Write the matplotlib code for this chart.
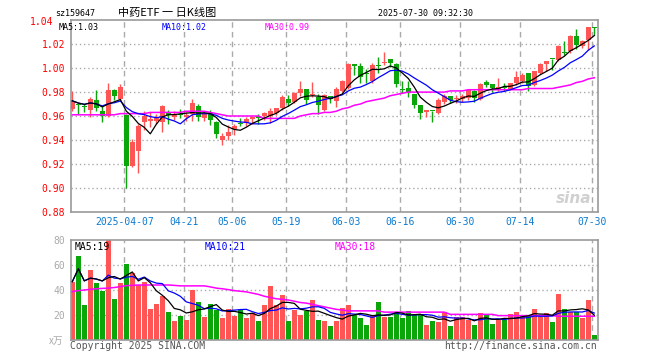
import numpy as np
import pandas as pd
import matplotlib
matplotlib.use("Agg")
import matplotlib.pyplot as plt

# daily candles 2025-03-24 .. 2025-07-30
opens = [0.966, 0.970, 0.968, 0.9647, 0.9737, 0.9645, 0.960, 0.982, 0.9743, 0.961,
         0.918, 0.931, 0.9547, 0.956, 0.956, 0.9547, 0.9622, 0.959, 0.962, 0.9595,
         0.962, 0.968, 0.958, 0.9628, 0.955, 0.940, 0.9433, 0.9489, 0.9535, 0.9545,
         0.9578, 0.960, 0.960, 0.960, 0.9628, 0.9665, 0.974, 0.972, 0.979, 0.983,
         0.9776, 0.9757, 0.965, 0.9768, 0.9726, 0.981, 0.9837, 1.0033, 1.002, 0.9955,
         0.9893, 1.0022, 1.0041, 1.0075, 1.0033, 0.982, 0.9837, 0.978, 0.9693, 0.963,
         0.9645, 0.9628, 0.972, 0.9768, 0.974, 0.9745, 0.975, 0.9812, 0.9745, 0.9887,
         0.9866, 0.9829, 0.984, 0.983, 0.9876, 0.989, 0.996, 0.9862, 0.996, 1.0038,
         1.008, 1.0072, 1.0133, 1.014, 1.0267, 1.0189, 1.024, 1.0345]
highs = [0.981, 0.971, 0.970, 0.976, 0.982, 0.968, 0.9878, 0.9825, 0.9867, 0.9615,
         0.941, 0.953, 0.9638, 0.963, 0.962, 0.969, 0.965, 0.964, 0.9655, 0.963,
         0.974, 0.970, 0.963, 0.965, 0.956, 0.9455, 0.9525, 0.953, 0.958, 0.959,
         0.960, 0.9617, 0.9636, 0.967, 0.967, 0.9776, 0.9773, 0.980, 0.9893, 0.983,
         0.9888, 0.978, 0.978, 0.977, 0.984, 0.990, 1.0047, 1.0033, 1.004, 0.999,
         1.0041, 1.009, 1.0139, 1.0075, 1.0047, 0.9893, 0.9893, 0.978, 0.9693, 0.965,
         0.9645, 0.975, 0.978, 0.9768, 0.9776, 0.978, 0.9826, 0.9815, 0.9876, 0.990,
         0.987, 0.9918, 0.9876, 0.988, 0.9974, 0.996, 0.996, 0.9974, 1.004, 1.0063,
         1.008, 1.019, 1.023, 1.028, 1.033, 1.024, 1.0342, 1.0345]
lows = [0.964, 0.962, 0.963, 0.959, 0.964, 0.9547, 0.9595, 0.9736, 0.973, 0.900,
        0.917, 0.9125, 0.9485, 0.951, 0.953, 0.947, 0.953, 0.957, 0.958, 0.956,
        0.956, 0.956, 0.956, 0.9525, 0.942, 0.9358, 0.940, 0.944, 0.9517, 0.9517,
        0.953, 0.9534, 0.957, 0.9545, 0.961, 0.965, 0.968, 0.971, 0.977, 0.970,
        0.976, 0.962, 0.964, 0.9707, 0.9678, 0.980, 0.983, 0.994, 0.9873, 0.9874,
        0.988, 0.9957, 1.003, 1.001, 0.984, 0.9796, 0.976, 0.9665, 0.9575, 0.959,
        0.9547, 0.962, 0.970, 0.971, 0.9707, 0.972, 0.973, 0.972, 0.973, 0.984,
        0.980, 0.981, 0.9807, 0.982, 0.986, 0.9875, 0.9807, 0.985, 0.995, 0.998,
        0.9988, 1.006, 1.011, 1.013, 1.0164, 1.017, 1.0156, 1.028]
closes = [0.9727, 0.969, 0.9675, 0.9745, 0.967, 0.960, 0.9814, 0.9764, 0.9844, 0.918,
          0.938, 0.952, 0.960, 0.9575, 0.958, 0.9686, 0.961, 0.9608, 0.9605, 0.961,
          0.971, 0.959, 0.962, 0.9567, 0.945, 0.9433, 0.947, 0.9517, 0.9533, 0.9578,
          0.9592, 0.958, 0.9628, 0.9645, 0.9667, 0.9762, 0.9706, 0.9795, 0.983, 0.9734,
          0.9782, 0.969, 0.9773, 0.974, 0.9826, 0.9893, 1.0033, 1.0022, 0.9924, 0.9949,
          1.0027, 1.0020, 1.0055, 1.0041, 0.9866, 0.9818, 0.979, 0.9693, 0.9623, 0.965,
          0.9642, 0.9734, 0.9768, 0.9734, 0.975, 0.9765, 0.982, 0.975, 0.9868, 0.986,
          0.9832, 0.984, 0.9838, 0.9873, 0.9927, 0.994, 0.9848, 0.9974, 1.0038, 1.0063,
          1.0078, 1.0189, 1.0130, 1.0267, 1.0192, 1.023, 1.0342, 1.0335]
ma30 = [0.961] * 8 + [0.962] * 5 + [0.963] * 6 + [0.964] * 4 + \
       [0.963, 0.962, 0.961, 0.960, 0.960, 0.960, 0.960, 0.960, 0.960,
        0.958, 0.958, 0.958, 0.958, 0.958, 0.958, 0.960, 0.961, 0.962, 0.962, 0.963, 0.963,
        0.964, 0.966, 0.967, 0.969, 0.970, 0.972, 0.973, 0.974, 0.975, 0.977, 0.978, 0.979,
        0.980, 0.980, 0.980, 0.980, 0.980, 0.980, 0.980, 0.981, 0.981, 0.981] + \
       [0.982] * 10 + [0.983] * 5 + [0.984, 0.985, 0.986, 0.988, 0.989, 0.991, 0.992]

# volume, x10k shares
volume = [46.7, 67.2, 28, 56, 46, 39.2, 80, 32.8, 45.3, 60.8,
          53.3, 44, 46.1, 24.8, 28.8, 35.2, 22.1, 15.2, 19.5, 16,
          40, 30.1, 18.7, 28.8, 24, 17.9, 24.8, 19.2, 24, 17.9,
          21.3, 15.2, 28, 43.2, 28, 36, 15.2, 24, 20, 23.5,
          32, 16, 15.2, 11.2, 15.2, 25.9, 28, 20, 17.3, 12,
          20, 30.7, 18.7, 18.7, 22.1, 17.3, 23.2, 20, 20.5, 12,
          15.2, 14.7, 22.1, 11.2, 18.7, 18.7, 16, 12, 21.3, 20.5,
          12.8, 16, 16, 20.5, 22.1, 18.7, 19.5, 24.8, 18.7, 21.3,
          14.7, 36.8, 24.8, 22.7, 22.7, 17.9, 32, 4]
vol_ma30 = [38.7, 39.5, 40, 40.5, 41, 41.3, 41.5, 42, 42.7, 43.5, 43.7] + [44] * 6 + \
           [43.7] + [43.3] * 5 + [42.5, 41.5, 41, 40.3, 39.5, 39, 38.5, 37.5, 36.5, 35,
            34, 33, 32.5, 32, 31, 30, 29.5, 28.5, 27.5, 26.5, 25.5, 24.5, 24] + \
           [23.3] * 6 + [22.3] * 11 + [20.5] * 8 + [19.5] * 10 + [19] * 7

tick_idx = [9, 19, 27, 36, 46, 55, 65, 75, 87]
tick_lab = ["2025-04-07", "04-21", "05-06", "05-19", "06-03", "06-16", "06-30", "07-14", "07-30"]

RED = "#ff5555"
GREEN = "#0aa60a"
GRAY = "#999999"
MONO = "DejaVu Sans Mono"

n = len(closes)
x = np.arange(n)
o = np.array(opens); c = np.array(closes)
up = c >= o
cols = np.where(up, RED, GREEN)
ma5 = pd.Series(closes).rolling(5, min_periods=1).mean()
ma10 = pd.Series(closes).rolling(10, min_periods=1).mean()
vma5 = pd.Series(volume).rolling(5, min_periods=1).mean()
vma10 = pd.Series(volume).rolling(10, min_periods=1).mean()

fig = plt.figure(figsize=(6.6, 3.6), dpi=100)
ax = fig.add_axes([70.7 / 660, 1 - 211.6 / 360, 527 / 660, 191.2 / 360])
axv = fig.add_axes([70.7 / 660, 1 - 340 / 360, 527 / 660, 100 / 360])

grid_x = [t - 0.33 for t in tick_idx]
for a in (ax, axv):
    for s in a.spines.values():
        s.set_color(GRAY)
        s.set_linewidth(1.2)
    a.set_xlim(-0.27, 87.57)
    for g in grid_x:
        a.axvline(g, color="#aaaaaa", lw=1, ls=(0, (4, 3)), zorder=0)
    a.tick_params(length=0)

# price panel
yt = np.round(np.arange(0.88, 1.041, 0.02), 2)
for v in yt[1:-1]:
    ax.axhline(v, color="#aaaaaa", lw=1, ls=(0, (1, 2)), zorder=0)
body_lo = np.minimum(o, c)
body_h = np.maximum(np.abs(c - o), 0.0007)
ax.vlines(x, lows, highs, colors=cols, lw=1, zorder=2)
ax.bar(x, body_h, bottom=body_lo, width=0.75, color=cols, lw=0, zorder=3)
ax.plot(x, ma30, color="#ff00ff", lw=1.1, zorder=4)
ax.plot(x, ma10, color="#0000ff", lw=0.9, zorder=4)
ax.plot(x, ma5, color="black", lw=0.9, zorder=4)
ax.set_ylim(0.88, 1.04)
ax.set_yticks(yt[:-1])
ax.set_yticklabels(["%.2f" % v for v in yt[:-1]], color="red", fontsize=7, family=MONO)
ax.set_xticks(grid_x)
ax.set_xticklabels(tick_lab, color="#0a7ad0", fontsize=7, family=MONO)
ax.tick_params(axis="y", pad=4)
ax.tick_params(axis="x", pad=4)
ax.text(0.955, 0.07, "sina", transform=ax.transAxes, color="#d0d0d0", fontsize=11,
        style="italic", weight="bold", ha="center", va="center", zorder=1)

# volume panel
for v in (20, 40, 60):
    axv.axhline(v, color="#aaaaaa", lw=1, ls=(0, (1, 2)), zorder=0)
axv.bar(x, volume, width=0.75, color=cols, lw=0, zorder=2)
axv.plot(x, vol_ma30, color="#ff00ff", lw=1.1, zorder=3)
axv.plot(x, vma10, color="#0000ff", lw=0.9, zorder=3)
axv.plot(x, vma5, color="black", lw=0.9, zorder=3)
axv.set_ylim(0, 80)
axv.set_yticks([20, 40, 60, 80])
axv.set_yticklabels(["20", "40", "60", "80"], color="#aaaaaa", fontsize=7, family=MONO)
axv.tick_params(axis="y", pad=4)
axv.set_xticks([])

def ftext(px, py, s, **kw):
    fig.text(px / 660, 1 - py / 360, s, va="center", **kw)

ftext(53, 22, "%.2f" % yt[-1], fontsize=7, family=MONO, color="red", ha="right")
ftext(55, 13, "sz159647", fontsize=6, family=MONO)
ftext(118, 13, "中药ETF 一 日K线图", fontsize=8, family=["Noto Sans CJK SC", "DejaVu Sans"])
ftext(473, 13, "2025-07-30 09:32:30", fontsize=6, family=MONO, ha="right")
ftext(59, 27, "MA5:1.03", fontsize=6, family=MONO, color="black")
ftext(162, 27, "MA10:1.02", fontsize=6, family=MONO, color="#0000ff")
ftext(265, 27, "MA30:0.99", fontsize=6, family=MONO, color="#ff00ff")
ftext(75, 247, "MA5:19", fontsize=7, family=MONO, color="black")
ftext(205, 247, "MA10:21", fontsize=7, family=MONO, color="#0000ff")
ftext(335, 247, "MA30:18", fontsize=7, family=MONO, color="#ff00ff")
ftext(63, 341, "x万", fontsize=7, family=["Noto Sans CJK SC", "DejaVu Sans"],
      color="#aaaaaa", ha="right", style="italic")
ftext(70, 346, "Copyright 2025 SINA.COM", fontsize=7, family=MONO, color="#555555")
ftext(597, 346, "http://finance.sina.com.cn", fontsize=7, family=MONO, color="#555555", ha="right")

fig.savefig("out.png", dpi=100)
